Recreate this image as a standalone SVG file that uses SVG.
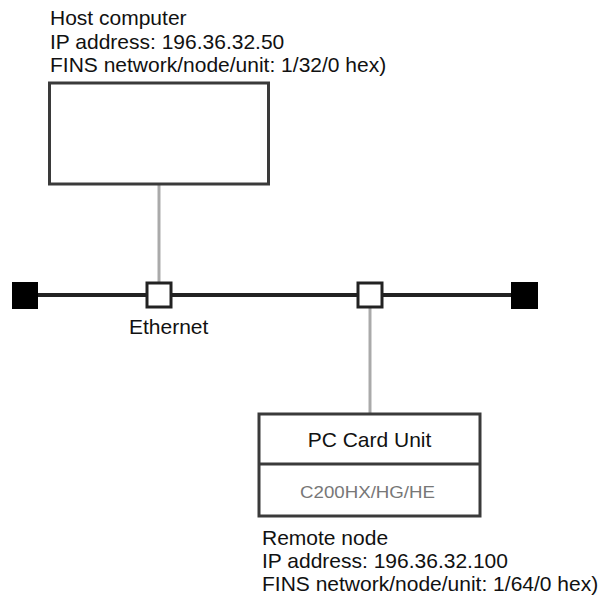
<svg xmlns="http://www.w3.org/2000/svg" width="602" height="599" viewBox="0 0 602 599">
<style>
.t{font-family:"Liberation Sans",Arial,sans-serif;font-size:21px;fill:#111}
.box{fill:#fff;stroke:#3a3a3a;stroke-width:3}
.conn{stroke:#aaa;stroke-width:3;fill:none}
.bus{stroke:#222;stroke-width:4;fill:none}
.tap{fill:#fff;stroke:#222;stroke-width:3}
.term{fill:#000}
</style>
<rect width="602" height="599" fill="#fff"/>
<g id="connectors">
<line class="bus" x1="38" y1="295" x2="511" y2="295"/>
<line class="conn" x1="159" y1="185" x2="159" y2="283"/>
<line class="conn" x1="370" y1="307" x2="370" y2="414"/>
</g>
<g id="host">
<text class="t" x="50" y="25">Host computer</text>
<text class="t" x="50" y="48.5">IP address: 196.36.32.50</text>
<text class="t" x="50" y="72">FINS network/node/unit: 1/32/0 hex)</text>
<rect class="box" x="49.5" y="83" width="219" height="101"/>
</g>
<g id="term-left"><rect class="term" x="12" y="282" width="26" height="27"/></g>
<g id="term-right"><rect class="term" x="511" y="282" width="27" height="27"/></g>
<g id="tap-host"><rect class="tap" x="147" y="283" width="24" height="24"/></g>
<g id="tap-remote"><rect class="tap" x="358" y="283" width="24" height="24"/></g>
<g id="ethernet-label"><text class="t" x="129" y="334">Ethernet</text></g>
<g id="remote">
<rect class="box" x="259" y="414" width="221" height="102"/>
<line x1="259" y1="464" x2="480" y2="464" stroke="#3a3a3a" stroke-width="3"/>
<text class="t" x="369.5" y="447" text-anchor="middle">PC Card Unit</text>
<text x="367.5" y="498" text-anchor="middle" font-family="'Liberation Sans',Arial,sans-serif" font-size="16" fill="#777" textLength="135" lengthAdjust="spacingAndGlyphs">C200HX/HG/HE</text>
<text class="t" x="262" y="545">Remote node</text>
<text class="t" x="262" y="568">IP address: 196.36.32.100</text>
<text class="t" x="262" y="591">FINS network/node/unit: 1/64/0 hex)</text>
</g>
</svg>
